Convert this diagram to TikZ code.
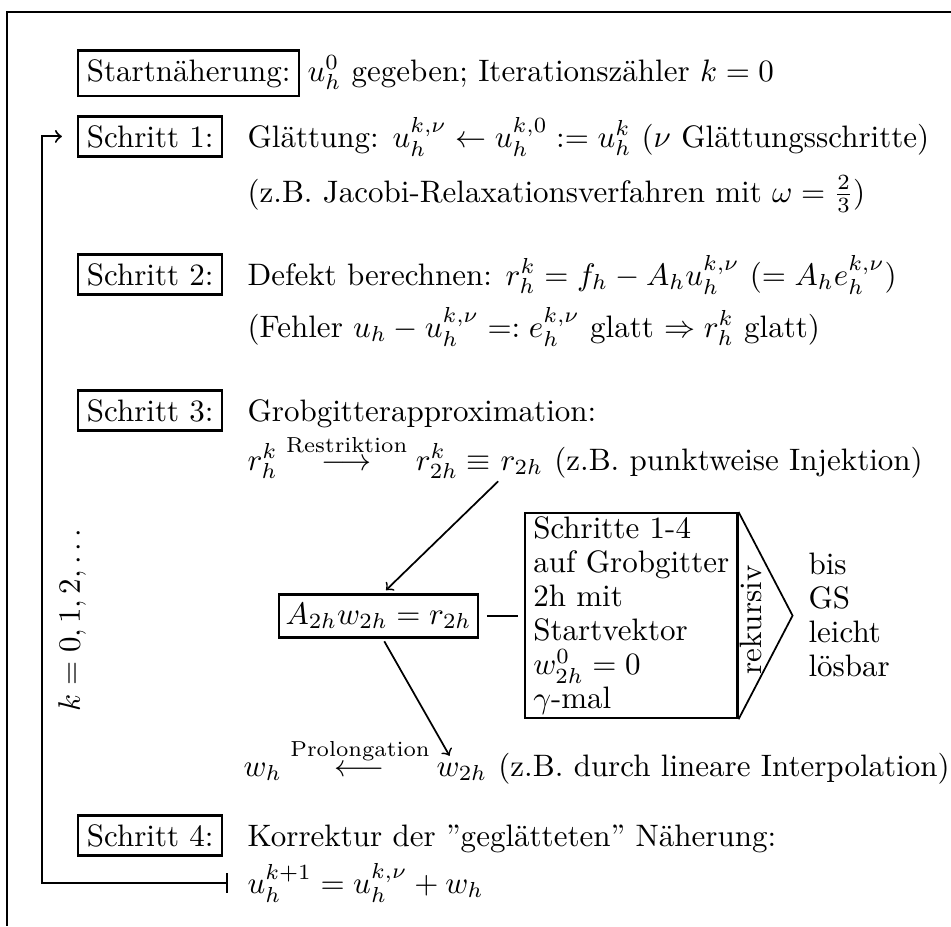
\RequirePackage{fix-cm}
\documentclass[tikz,border=0pt,11pt]{standalone}
\usepackage{amsmath}
\usetikzlibrary{calc}

\begin{document}
\begin{tikzpicture}[x=0.345pt,y=-0.345pt,
  font=\fontsize{10.7pt}{13.2pt}\selectfont,
  stepbox/.style={draw, line width=0.8pt, inner sep=3pt, anchor=base west},
  txt/.style={anchor=base west, inner sep=0pt},
  arr/.style={->, line width=0.6pt}]
\useasboundingbox (0,0) rectangle (951,926);
% Rahmen (oben, links)
\draw[line width=0.8pt] (951,12) -- (7,12) -- (7,926);
% Startnaeherung
\node[stepbox] (start) at (77,81) {Startnäherung:};
\node[txt] (starttxt) at (307,81) {$u_h^0$ gegeben; Iterationszähler $k=0$};
% Schritt 1
\node[stepbox] (s1) at (77,147) {Schritt 1:};
\node[txt] (glatt) at (247,147) {Glättung: $u_h^{k,\nu} \leftarrow u_h^{k,0} := u_h^k$ ($\nu$ Glättungsschritte)};
\node[txt] (jacobi) at (247,202) {(z.B. Jacobi-Relaxationsverfahren mit $\omega = \frac{2}{3}$)};
% Schritt 2
\node[stepbox] (s2) at (77,285) {Schritt 2:};
\node[txt] (defekt) at (247,285) {Defekt berechnen: $r_h^k = f_h - A_h u_h^{k,\nu}$ ($= A_h e_h^{k,\nu}$)};
\node[txt] (fehler) at (247,337) {(Fehler $u_h - u_h^{k,\nu} =: e_h^{k,\nu}$ glatt $\Rightarrow r_h^k$ glatt)};
% Schritt 3
\node[stepbox] (s3) at (77,421) {Schritt 3:};
\node[txt] (grob) at (247,421) {Grobgitterapproximation:};
\node[txt] (restr) at (247,470) {$r_h^k \stackrel{\text{Restriktion}}{\longrightarrow} r^k_{2h} \equiv{}$};
\node[txt] (r2h) at (restr.base east) {$r_{2h}$};
\node[txt] (inj) at ([xshift=3.5pt]r2h.base east) {(z.B. punktweise Injektion)};
\node[draw, line width=0.8pt, inner xsep=2.2pt, inner ysep=3pt] (eq) at (378.5,616) {$A_{2h}w_{2h} = r_{2h}$};
\node[draw, line width=0.8pt, anchor=north west, align=left, inner xsep=2.8pt, inner ysep=1.2pt,
  font=\fontsize{10.7pt}{11.73pt}\selectfont] (rec) at (524,512)
  {Schritte 1-4\\auf Grobgitter\\2h mit\\Startvektor\\$w^0_{2h}=0$\\$\gamma$-mal};
\coordinate (tip) at ($(rec.east)+(54,0)$);
\draw[line width=0.6pt] (rec.north east) -- (tip) -- (rec.south east);
\node[rotate=90, inner sep=0pt] (rek) at (751,620) {rekursiv};
\node[anchor=west, align=left, inner sep=0pt, font=\fontsize{10.7pt}{11.73pt}\selectfont] (gs) at (808,615) {bis\\GS\\leicht\\lösbar};
\node[txt] (prol) at (243,776) {$w_h \stackrel{\text{Prolongation}}{\longleftarrow}$};
\node[txt] (w2h) at ([xshift=2pt]prol.base east) {$w_{2h}$};
\node[txt] (interp) at ([xshift=3.5pt]w2h.base east) {(z.B. durch lineare Interpolation)};
\draw[arr, shorten <=3pt, shorten >=1.5pt] ([xshift=-6pt]r2h.south) -- ([xshift=1.5pt]eq.north);
\draw[arr, shorten <=1pt, shorten >=2.5pt] ([xshift=1.5pt]eq.south) -- ([xshift=-3pt]w2h.north);
\draw[line width=0.6pt, shorten <=2.7pt, shorten >=2pt] (eq.east) -- (eq.east -| rec.west);
% Schritt 4
\node[stepbox] (s4) at (77,846) {Schritt 4:};
\node[txt] (korr) at (247,846) {Korrektur der ''geglätteten'' Näherung:};
\node[txt] (upd) at (247,893) {$u_h^{k+1} = u_h^{k,\nu} + w_h$};
% Iterationsschleife
\coordinate (back) at (228,883);
\coordinate (loopx) at (42,0);
\draw[|->, line width=0.7pt, shorten >=5.2pt] (back) -- (back -| loopx) |- (s1.west);
\node[rotate=90] (kidx) at (72,620) {$k = 0, 1, 2, \ldots$};
\end{tikzpicture}
\end{document}
